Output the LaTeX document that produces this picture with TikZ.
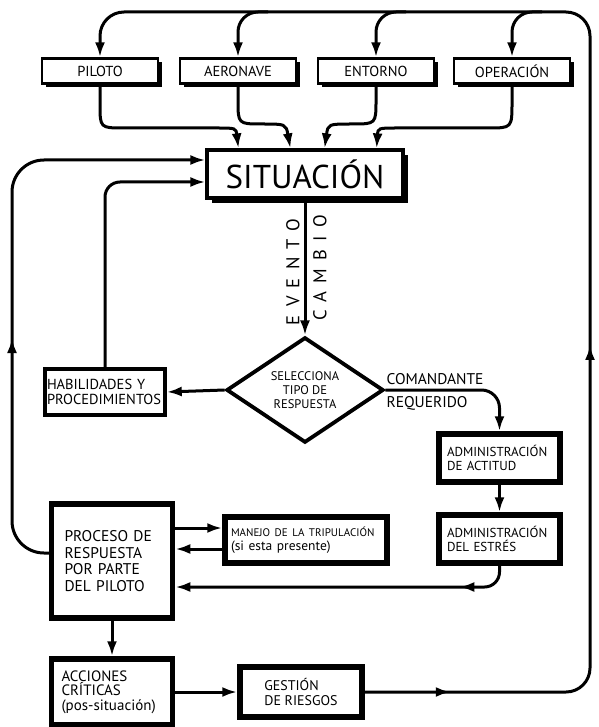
\documentclass[tikz,border=0pt]{standalone}
\usepackage{fontspec}
\setmainfont{PT Sans}
\usetikzlibrary{arrows.meta,shapes.geometric,shadows,decorations.markings}

\begin{document}
\begin{tikzpicture}[x=1pt, y=-1pt,
    conn/.style={line width=3pt, -{Latex[length=15pt,width=10pt]}},
    topbox/.style={draw, line width=2.4pt, fill=white, minimum width=116pt, minimum height=25pt,
        inner sep=0pt, font=\fontsize{14.5}{17}\selectfont,
        drop shadow={shadow xshift=4pt, shadow yshift=-4pt, fill=black, opacity=1}},
    heavybox/.style={draw, line width=5.5pt, fill=white, align=left, inner ysep=0pt},
    midarrow/.style={postaction={decorate}, decoration={markings,
        mark=at position #1 with {\arrow{Latex[length=15pt,width=10pt]}}}}]
        \useasboundingbox (0,0) rectangle (598,727);

        % Cajas superiores
        \node[topbox] (piloto) at (100,71) {PILOTO};
        \node[topbox] (aeronave) at (238,71) {AERONAVE};
        \node[topbox] (entorno) at (376,71) {ENTORNO};
        \node[topbox] (operacion) at (512,71) {OPERACIÓN};

        % Situacion
        \node[draw, line width=3.2pt, fill=white, minimum width=196pt, minimum height=48pt,
            font=\fontsize{33}{36}\selectfont,
            drop shadow={shadow xshift=5pt, shadow yshift=-5pt, fill=black, opacity=1}]
            (sit) at (305,174) {SITUACIÓN};

        % Decision
        \node[diamond, draw, line width=3.8pt, fill=white, minimum width=157pt, minimum height=95pt,
            inner sep=0pt, align=center, font=\fontsize{12.5}{14}\selectfont]
            (sel) at (305,390) {SELECCIONA\\TIPO DE\\RESPUESTA};
        \node[draw, line width=3.4pt, fill=white, minimum height=46pt, text width=116pt, inner xsep=2pt,
            align=left, font=\fontsize{14.5}{15.5}\selectfont]
            (hab) at (105,392) {HABILIDADES Y\\PROCEDIMIENTOS};

        % Cajas de la derecha
        \node[heavybox, minimum height=48pt, text width=105pt, inner xsep=8pt, font=\fontsize{13}{13.5}\selectfont]
            (actitud) at (499.5,458) {ADMINISTRACIÓN\\DE ACTITUD};
        \node[heavybox, minimum height=48pt, text width=105pt, inner xsep=8pt, font=\fontsize{13}{13.5}\selectfont]
            (estres) at (499.5,539) {ADMINISTRACIÓN\\DEL ESTRÉS};

        % Cajas de abajo
        \node[heavybox, minimum height=46pt, text width=150pt, inner xsep=6pt, font=\fontsize{13.5}{14}\selectfont]
            (manejo) at (306,540) {{\fontsize{11}{12}\selectfont MANEJO DE LA TRIPULACIÓN}\\(si esta presente)};
        \node[heavybox, minimum height=114pt, text width=95pt, inner xsep=13pt, font=\fontsize{15.5}{16.5}\selectfont]
            (proceso) at (112,561) {PROCESO DE\\RESPUESTA\\POR PARTE\\DEL PILOTO};
        \node[heavybox, minimum height=66pt, text width=101pt, inner xsep=10pt, font=\fontsize{15}{14.5}\selectfont]
            (acciones) at (112,692) {ACCIONES\\CRÍTICAS\\(pos-situación)};
        \node[heavybox, minimum height=50pt, minimum width=122pt, font=\fontsize{14}{14.5}\selectfont]
            (gestion) at (301,692) {GESTIÓN\\DE RIESGOS};

        % Lazo exterior
        \draw[conn, rounded corners=24pt, postaction={decorate}, decoration={markings,
            mark=at position 86pt with {\arrow{Latex[length=15pt,width=10pt]}},
            mark=at position 562pt with {\arrow{Latex[length=15pt,width=10pt]}}}]
            (gestion.east) -- (590,692) -- (590,12) -- (100,12) -- (piloto.north);
        \foreach \n/\x in {aeronave/238, entorno/376, operacion/512}
            \draw[conn, rounded corners=20pt] (\x+30,12) -| (\n.north);

        % Hacia la situacion
        \draw[conn] (piloto.south) -- (100,104) .. controls (100,128) .. (124,128) -- (216,128)
            .. controls (236,128) .. ([xshift=33pt]sit.north west);
        \draw[conn] (aeronave.south) -- (238,100) .. controls (238,124) .. (262,124)
            .. controls (286,124) .. ([xshift=85pt]sit.north west);
        \draw[conn] (entorno.south) -- (376,100) .. controls (376,124) .. (352,124)
            .. controls (328,124) .. ([xshift=-80pt]sit.north east);
        \draw[conn] (operacion.south) -- (512,102) .. controls (512,128) .. (488,128) -- (398,128)
            .. controls (378,128) .. ([xshift=-28pt]sit.north east);

        % Lazos de la izquierda
        \draw[conn, rounded corners=32pt, midarrow=238pt]
            ([yshift=8pt]proceso.west) -- (12,553) -- (12,160) -- ([yshift=14pt]sit.west);
        \draw[conn, rounded corners=15pt] (hab.north) |- ([yshift=-8pt]sit.west);

        % Evento / cambio
        \draw[conn] (sit.south) -- (sel.north);
        \node[rotate=90, font=\fontsize{18.5}{18}\selectfont\addfontfeature{LetterSpace=45}]
            (evento) at (293,272) {EVENTO};
        \node[rotate=90, font=\fontsize{18.5}{18}\selectfont\addfontfeature{LetterSpace=45}]
            (cambio) at (320,268) {CAMBIO};

        % Respuesta
        \draw[conn] (sel.west) -- (hab.east);
        \draw[conn, rounded corners=18pt] (sel.east) -| (actitud.north);
        \node[anchor=west, font=\fontsize{15.5}{17}\selectfont] (comandante) at (383,379) {COMANDANTE};
        \node[anchor=west, font=\fontsize{15.5}{17}\selectfont] (requerido) at (383,403) {REQUERIDO};
        \draw[conn] (actitud) -- (estres);
        \draw[conn, rounded corners=15pt, midarrow=55pt] (estres.south) |- ([yshift=-26pt]proceso.east);

        % Tripulacion
        \coordinate (m1) at ([yshift=12pt]manejo.west);
        \coordinate (m2) at ([yshift=-9pt]manejo.west);
        \draw[conn] (m1 -| proceso.east) -- (m1);
        \draw[conn] (m2) -- (m2 -| proceso.east);

        % Acciones
        \draw[conn] (proceso) -- (acciones);
        \draw[conn] (acciones) -- (gestion);

    \end{tikzpicture}
\end{document}
